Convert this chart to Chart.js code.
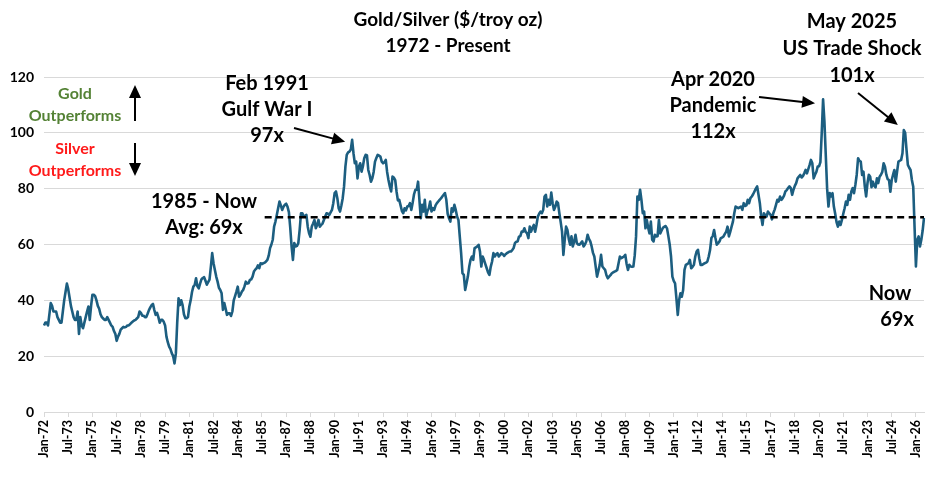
<!DOCTYPE html>
<html><head><meta charset="utf-8">
<script src="https://cdn.jsdelivr.net/npm/chart.js@4.4.1/dist/chart.umd.min.js"></script>
<style>html,body{margin:0;padding:0;background:#fff}#wrap{width:936px;height:478px}</style>
</head><body><div id="wrap"><canvas id="c" width="936" height="478"></canvas></div>
<script>
// ---- data: monthly gold/silver ratio, Jan-72 .. Jul-26 ----
const startYear = 1972;
const monthNames = ['Jan','Feb','Mar','Apr','May','Jun','Jul','Aug','Sep','Oct','Nov','Dec'];
const ratio1970s = [
 31,32,32,31,35,39,38,36,36,36,34,33,
 32,32,36,40,43,46,44,41,38,36,34,33,
 33,36,28,34,31,30,32,34,36,37.8,33,38,
 42,42,41.5,40,38,37,35,34,33.5,33,33,34,
 33,32,31,30.5,29,28,25.5,27,28,29.5,30,30.5,
 30.3,30.5,31,31,31.5,32,32.4,32.8,33,33.5,34,36,
 35.5,34.5,34.5,34,34,35.2,36.5,37.5,38.3,38.7,36.5,34.8,
 35.5,34,32,33,33,32.3,31,27,25,23.4,22.5,21];
const ratio1980s = [
 20,17.4,21,32,40.7,38.3,40,38.3,35,33.6,33.6,34,
 37.8,40,43,44.9,45.5,47.9,45,44.3,46,47.5,48,48.3,
 47,45.6,46.5,47.4,52,56.9,53.3,50.9,48.5,46.7,44.5,43.7,
 42.5,36.6,39,37,34.8,35.4,35.4,34.4,36,40,41.5,43.1,
 44.9,41.3,42,43.1,43.7,45,46.7,46,46.1,47.3,47.5,48.5,
 50.3,51,51.5,52.5,51.5,53.3,53,53.3,53.5,53.9,54.5,56,
 58.7,60,61.7,66.4,68.2,70.6,73,75.4,74,72.4,73.5,74.2,
 74.6,73.5,71.6,66,59.3,54.5,60.5,59.3,59.5,60.5,65.2,71.2,
 71.2,70,70.3,70.6,66.4,64,62.8,66.4,67.5,68.8,65.8,67,
 68.8,66.4,67,67.5,68.8,70,71.2,71,70.6,71.5,72.4,74.8];
const ratio1990s = [
 78.4,79,76.6,73,71.8,74,76.6,80.8,87.9,92.1,93,93.3,
 94,97.5,92.7,89.1,89.7,83.7,87.9,89.1,86.1,88,90.9,92.1,
 92,86.7,84.9,82.5,83.7,86,89.7,91,92.1,91.8,91.5,89.7,
 89.1,89.5,90.3,86,83.1,80.8,79,84.3,84,83.1,79,75.8,
 76,74,72,71.2,73,72.2,73.6,73.8,74.8,72.4,75,78,
 79.6,79.6,82.5,76,69.4,74.2,71.8,76,70,72,73,75.4,
 71.8,73,72.4,74,74.8,75.4,76,76.5,77.2,77.8,78.4,76,
 71,69.4,68.2,73,71.8,74.2,72.4,70,68.8,62.8,56.9,49.7,
 49.1,43.7,46,48.5,52,54.5,55.7,54.5,58.7,59,59.3,59.9,
 57.5,52.1,55.7,54.5,53,51.5,50,49.1,52,53.9,56.9,55.7];
const ratio2000s = [
 56.5,56.9,55.7,56.3,56.9,56.5,55.9,56.5,56.9,57.2,57.5,57.5,
 58,58.7,60.5,61,61.1,62.8,63,64.6,64.6,65.8,64.5,64,
 62.3,66.4,64.6,66,67,64.6,67,70,71,71.8,71.2,72.4,
 77.2,77.8,73.6,76,74.2,78.6,74.8,72.4,73.5,75.4,74.8,71.2,
 68,64.6,56.3,61.7,66.4,65.2,62,59.9,62.9,59.3,61,63.5,
 60.5,60,59.9,60.5,61.1,59.3,60,61.1,63.5,62,61.1,59.3,
 57,55.7,52.1,48.5,50.5,52.7,56.3,52.1,51.5,50.9,49,47.9,
 48.5,49,49.7,50,50.3,50.5,50.9,53.3,55.7,55.1,55.4,55.7,
 56.3,53,50.9,52.7,52.1,52,52.1,56,62.9,77.2,76,79.6,
 76,71.2,71.8,65.8,68.8,66,64,68.2,61.7,61.1,63.5,62.9];
const ratio2010s = [
 63,68.8,64,65,66,66.4,66.6,65.8,63,60,55.7,48.5,
 47,46.1,40.7,34.8,40,42.5,41.3,43.7,50.9,52.7,53,53.3,
 54.5,51.5,52,52.7,55.7,57.5,58.1,55,52.7,52.7,53,53.3,
 53.5,53.9,55.7,58,62.3,63,65.2,62.3,59.9,60.5,61.1,62.3,
 62.5,62.9,63.8,64.6,66.4,62.9,64.5,66.4,68.2,71.2,73.6,73.3,
 73,73.3,73.6,72.4,74.8,73.8,74,76,74.8,76.6,77.2,78,
 79,80,80.8,77.8,74.8,70,67,71.2,70.5,70,71.8,71.2,
 70.6,69,71.2,72.5,74.2,76,75.4,77.2,76,76.6,77.5,79,
 79.5,80.2,80.8,80.2,77.8,79.6,81,82,83.7,84.3,84.9,84,
 84.5,85.5,86.7,85.5,87,88.5,90.3,89.1,83.7,85,86,87.9];
const ratio2020s = [
 88,89.5,100,112,104,92,80,73.6,78.4,77.2,78.4,73.6,
 71,68,66.4,68.2,67,68.8,71,73,75.4,74.2,77.8,76,
 79,80.2,78.4,81.4,85,90.9,90,89.7,84.9,86.1,80.8,77.2,
 82,85,84.3,80.5,82.5,81,80.5,83.7,82,84.3,85,86,
 89.1,87.9,85,83.4,83.1,78.9,83.1,85,86.7,82.5,86.1,89.7,
 90,90.3,92.7,101,100,94,88.5,87.5,86.7,83.1,80.7,66,
 52.1,61.7,62.9,59.3,61.7,65,69.5];
const yTicks = [0,20,40,60,80,100,120];
const avgValue = 69.8;        // "1985 - Now Avg: 69x"
const avgStartLabel = 'Sep-85';
const tickEvery = 18;          // a date label every 18 months

const ratio = [].concat(ratio1970s, ratio1980s, ratio1990s, ratio2000s, ratio2010s, ratio2020s);
const labels = ratio.map((_, i) => monthNames[i % 12] + '-' + String((startYear + Math.floor(i / 12)) % 100).padStart(2, '0'));
const avgStart = labels.indexOf(avgStartLabel);
const avgLine = labels.map((_, i) => i >= avgStart ? avgValue : null);

const FONT = 'Lato';
function arrow(ctx, x1, y1, x2, y2) {
  const a = Math.atan2(y2 - y1, x2 - x1), L = 13, W = 6;
  ctx.beginPath(); ctx.moveTo(x1, y1);
  ctx.lineTo(x2 - Math.cos(a) * L * 0.8, y2 - Math.sin(a) * L * 0.8); ctx.stroke();
  ctx.beginPath(); ctx.moveTo(x2, y2);
  ctx.lineTo(x2 - Math.cos(a) * L + Math.sin(a) * W, y2 - Math.sin(a) * L - Math.cos(a) * W);
  ctx.lineTo(x2 - Math.cos(a) * L - Math.sin(a) * W, y2 - Math.sin(a) * L + Math.cos(a) * W);
  ctx.closePath(); ctx.fill();
}
const annotations = {
  id: 'annotations',
  afterDraw(chart) {
    const ctx = chart.ctx, xs = chart.scales.x, ys = chart.scales.y;
    const txt = (s, x, y, size, color) => { ctx.font = 'bold ' + size + 'px ' + FONT; ctx.fillStyle = color || '#000'; ctx.fillText(s, x, y); };
    const pt = (lab) => { const i = labels.indexOf(lab); return [xs.getPixelForValue(i), ys.getPixelForValue(ratio[i])]; };
    ctx.save();
    ctx.textAlign = 'center'; ctx.textBaseline = 'middle';
    txt('Gold/Silver ($/troy oz)', 448, 20, 19);
    txt('1972 - Present', 448, 46, 19);
    txt('Feb 1991', 267, 84, 20); txt('Gulf War I', 267, 110, 20); txt('97x', 267, 136, 20);
    txt('1985 - Now', 204, 202, 20); txt('Avg: 69x', 204, 228, 20);
    txt('Apr 2020', 713, 80, 20); txt('Pandemic', 713, 106, 20); txt('112x', 713, 132, 20);
    txt('May 2025', 852, 22, 20); txt('US Trade Shock', 852, 49, 20); txt('101x', 852, 76, 20);
    txt('Now', 890, 294, 20); txt('69x', 897, 320, 20);
    txt('Gold', 75, 94, 16, '#548235'); txt('Outperforms', 75, 116, 16, '#548235');
    txt('Silver', 75, 149, 16, '#FF1A1A'); txt('Outperforms', 75, 171, 16, '#FF1A1A');
    ctx.strokeStyle = '#000'; ctx.fillStyle = '#000'; ctx.lineWidth = 2;
    arrow(ctx, 135, 121, 135, 85);
    arrow(ctx, 135, 143, 135, 176);
    let p = pt('Feb-91'); arrow(ctx, 294, 128, p[0] - 7, p[1] + 2);
    p = pt('Apr-20'); arrow(ctx, 759, 97, p[0] - 8, p[1] + 4);
    p = pt('Apr-25'); arrow(ctx, 858, 93, p[0] - 6, p[1] - 5);
    ctx.restore();
  }
};

new Chart(document.getElementById('c'), {
  type: 'line',
  data: {
    labels,
    datasets: [
      { label: 'Avg', data: avgLine, borderColor: '#000', borderWidth: 2.5, borderDash: [7, 4.5], pointRadius: 0, fill: false, order: 0, spanGaps: false },
      { label: 'Gold/Silver', data: ratio, borderColor: '#1C5E80', borderWidth: 2.6, pointRadius: 0, tension: 0, fill: false, order: 1, borderJoinStyle: 'round' }
    ]
  },
  options: {
    responsive: false, animation: false, devicePixelRatio: 1,
    layout: { padding: { left: 0, right: 12, top: 77, bottom: 0 } },
    plugins: { legend: { display: false }, tooltip: { enabled: false }, title: { display: false } },
    scales: {
      x: {
        type: 'category', offset: false,
        border: { display: true, color: '#D9D9D9', width: 1 },
        grid: { drawOnChartArea: false, drawTicks: true, tickLength: 5, color: '#D9D9D9' },
        ticks: {
          autoSkip: false, maxRotation: 90, minRotation: 90, padding: 3, color: '#000',
          font: { family: FONT, weight: 'bold', size: 12.5 },
          callback: (v, i) => (i % tickEvery === 0 ? labels[i] : null)
        },
        afterFit: (s) => { s.height = 66; }
      },
      y: {
        min: 0, max: 120,
        border: { display: false },
        grid: { color: '#D9D9D9', drawTicks: false, lineWidth: 1 },
        afterBuildTicks: (s) => { s.ticks = yTicks.map(v => ({ value: v })); },
        ticks: { padding: 10, color: '#000', font: { family: FONT, weight: 'bold', size: 14 } },
        afterFit: (s) => { s.width = 44; }
      }
    }
  },
  plugins: [annotations]
});
</script></body></html>
